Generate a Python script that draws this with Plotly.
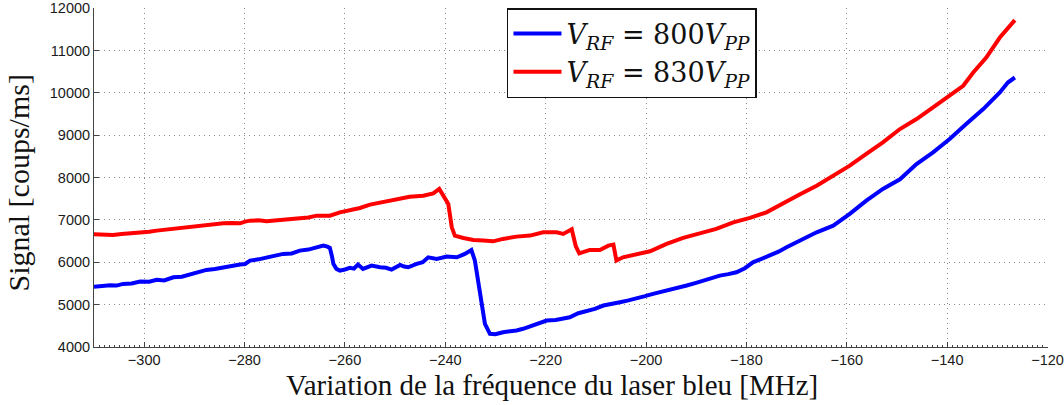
import plotly.graph_objects as go

# Scan: signal vs. blue-laser detuning, for two RF drive amplitudes
freq_800 = [-310.0, -308.5, -306.8, -305.5, -304.2, -302.5, -300.8, -299.0, -297.5, -296.0,
            -294.2, -292.5, -290.9, -289.2, -287.6, -285.9, -284.2, -282.5, -280.9, -279.9,
            -278.9, -277.2, -275.6, -274.0, -272.3, -270.6, -269.0, -267.3, -265.6, -264.3,
            -263.5, -263.0, -262.6, -262.3, -261.7, -261.0, -260.0, -259.0, -258.2, -257.4,
            -256.4, -255.5, -254.7, -253.0, -251.8, -250.7, -249.0, -248.2, -247.4, -245.7,
            -244.5, -243.4, -241.7, -239.7, -237.7, -236.1, -234.8, -234.1, -233.1, -232.1,
            -231.1, -230.0, -228.5, -227.0, -225.8, -224.5, -223.1, -221.5, -219.8, -218.0,
            -216.5, -215.2, -213.5, -211.9, -210.2, -208.5, -206.8, -205.2, -203.5, -201.9,
            -200.2, -198.6, -196.9, -195.3, -193.6, -191.9, -190.2, -188.6, -186.9, -185.3,
            -183.6, -182.0, -180.3, -178.7, -177.0, -175.3, -173.6, -172.0, -170.3, -168.7,
            -166.0, -162.7, -159.4, -156.1, -152.8, -149.4, -146.1, -142.8, -139.5, -136.2,
            -132.8, -129.5, -127.9, -126.5]
signal_800 = [5420, 5440, 5460, 5450, 5490, 5500, 5545, 5540, 5585, 5570,
              5646, 5660, 5710, 5760, 5820, 5840, 5882, 5900, 5946, 5960,
              6040, 6070, 6118, 6150, 6198, 6210, 6276, 6300, 6354, 6394,
              6370, 6340, 6150, 5962, 5844, 5804, 5830, 5868, 5850, 5946,
              5844, 5890, 5922, 5882, 5870, 5828, 5939, 5900, 5882, 5962,
              6000, 6118, 6080, 6134, 6118, 6198, 6292, 6040, 5254, 4547,
              4311, 4300, 4349, 4370, 4389, 4430, 4483, 4560, 4625, 4640,
              4679, 4703, 4797, 4844, 4900, 4979, 5010, 5057, 5100, 5160,
              5200, 5254, 5300, 5349, 5400, 5451, 5510, 5568, 5620, 5686,
              5720, 5764, 5860, 6000, 6080, 6158, 6250, 6354, 6450, 6530,
              6708, 6866, 7142, 7455, 7731, 7960, 8321, 8594, 8910, 9264,
              9618, 10009, 10245, 10363]

freq_830 = [-310.0, -308.0, -306.2, -304.5, -302.5, -300.8, -299.0, -297.5, -295.8, -294.2,
            -292.5, -290.9, -289.2, -287.6, -285.9, -284.2, -282.5, -280.9, -279.9, -278.9,
            -277.2, -275.6, -274.0, -272.3, -270.6, -269.0, -267.3, -265.6, -264.3, -263.0,
            -261.0, -259.0, -257.0, -255.0, -252.4, -249.7, -247.1, -244.4, -242.4, -241.2,
            -240.1, -239.4, -238.7, -238.1, -236.4, -234.4, -232.4, -230.5, -228.5, -225.8,
            -223.1, -220.5, -217.8, -216.5, -214.8, -214.0, -213.3, -211.2, -209.2, -207.5,
            -206.5, -205.9, -204.6, -201.9, -199.2, -195.9, -192.6, -189.3, -186.0, -182.6,
            -179.3, -176.0, -172.7, -169.4, -166.0, -162.7, -159.4, -156.1, -152.8, -149.4,
            -146.1, -142.8, -139.5, -136.8, -134.8, -132.2, -129.5, -126.5]
signal_830 = [6660, 6650, 6646, 6670, 6680, 6708, 6720, 6748, 6770, 6802,
              6820, 6842, 6870, 6889, 6910, 6920, 6930, 6920, 6960, 6983,
              6990, 6967, 6985, 7000, 7010, 7038, 7060, 7101, 7094, 7101,
              7179, 7219, 7283, 7361, 7415, 7495, 7549, 7573, 7627, 7731,
              7495, 7377, 6826, 6630, 6575, 6528, 6512, 6495, 6552, 6606,
              6630, 6708, 6708, 6670, 6780, 6380, 6210, 6292, 6292, 6394,
              6417, 6040, 6118, 6182, 6260, 6434, 6575, 6684, 6788, 6944,
              7047, 7179, 7377, 7600, 7809, 8045, 8281, 8557, 8830, 9146,
              9382, 9656, 9932, 10168, 10481, 10835, 11307, 11717]

x_ticks = [-300, -280, -260, -240, -220, -200, -180, -160, -140, -120]
x_tick_text = ["\u2212300", "\u2212280", "\u2212260", "\u2212240", "\u2212220",
               "\u2212200", "\u2212180", "\u2212160", "\u2212140", "\u2212120"]
y_ticks = [4000, 5000, 6000, 7000, 8000, 9000, 10000, 11000, 12000]
y_tick_text = ["4000", "5000", "6000", "7000", "8000", "9000", "10000", "11000", "12000"]

label_800 = "<i>V</i><sub><i>RF</i></sub> = 800<i>V</i><sub><i>PP</i></sub>"
label_830 = "<i>V</i><sub><i>RF</i></sub> = 830<i>V</i><sub><i>PP</i></sub>"

serif = "Liberation Serif"
sans = "Liberation Sans"

fig = go.Figure()
fig.add_trace(go.Scatter(x=freq_800, y=signal_800, mode="lines", name=label_800,
                         line=dict(color="#0000ff", width=4)))
fig.add_trace(go.Scatter(x=freq_830, y=signal_830, mode="lines", name=label_830,
                         line=dict(color="#ff0000", width=4)))

axis_common = dict(
    showline=True, linecolor="#444444", linewidth=1,
    ticks="inside", ticklen=5, tickcolor="#444444", tickwidth=1,
    showgrid=True, gridcolor="#8a8a8a", gridwidth=1, griddash="1px,4px",
    zeroline=False, mirror=False, ticklabeloverflow="allow", automargin=False,
    tickfont=dict(family=sans, size=14.5, color="#1a1a1a"),
)

fig.update_xaxes(range=[-310, -119.9], tickvals=x_ticks, ticktext=x_tick_text,
                 minor=dict(dtick=1, ticklen=2, ticks="inside", tickcolor="#444444", showgrid=False),
                 **axis_common)
fig.update_yaxes(range=[4000, 12004], tickvals=y_ticks, ticktext=y_tick_text, **axis_common)

fig.update_layout(
    width=1064, height=405,
    margin=dict(l=94, r=16, t=8, b=58, autoexpand=False),
    plot_bgcolor="white", paper_bgcolor="white",
    showlegend=True,
    legend=dict(x=0.4329, y=1.0, xanchor="left", yanchor="top",
                bgcolor="white", bordercolor="#111111", borderwidth=1.5,
                font=dict(family="DejaVu Serif", size=27, color="#111111"),
                itemwidth=48, tracegroupgap=0),
    annotations=[
        dict(text="Variation de la fréquence du laser bleu [MHz]", xref="paper", yref="paper",
             x=0.4806, y=-0.112, xanchor="center", yanchor="middle", showarrow=False,
             font=dict(family=serif, size=29, color="#111111")),
        dict(text="Signal [coups/ms]", xref="paper", yref="paper",
             x=-0.079, y=0.484, xanchor="center", yanchor="middle", showarrow=False,
             textangle=-90, font=dict(family=serif, size=30, color="#111111")),
    ],
)

fig.write_html("out.html")
